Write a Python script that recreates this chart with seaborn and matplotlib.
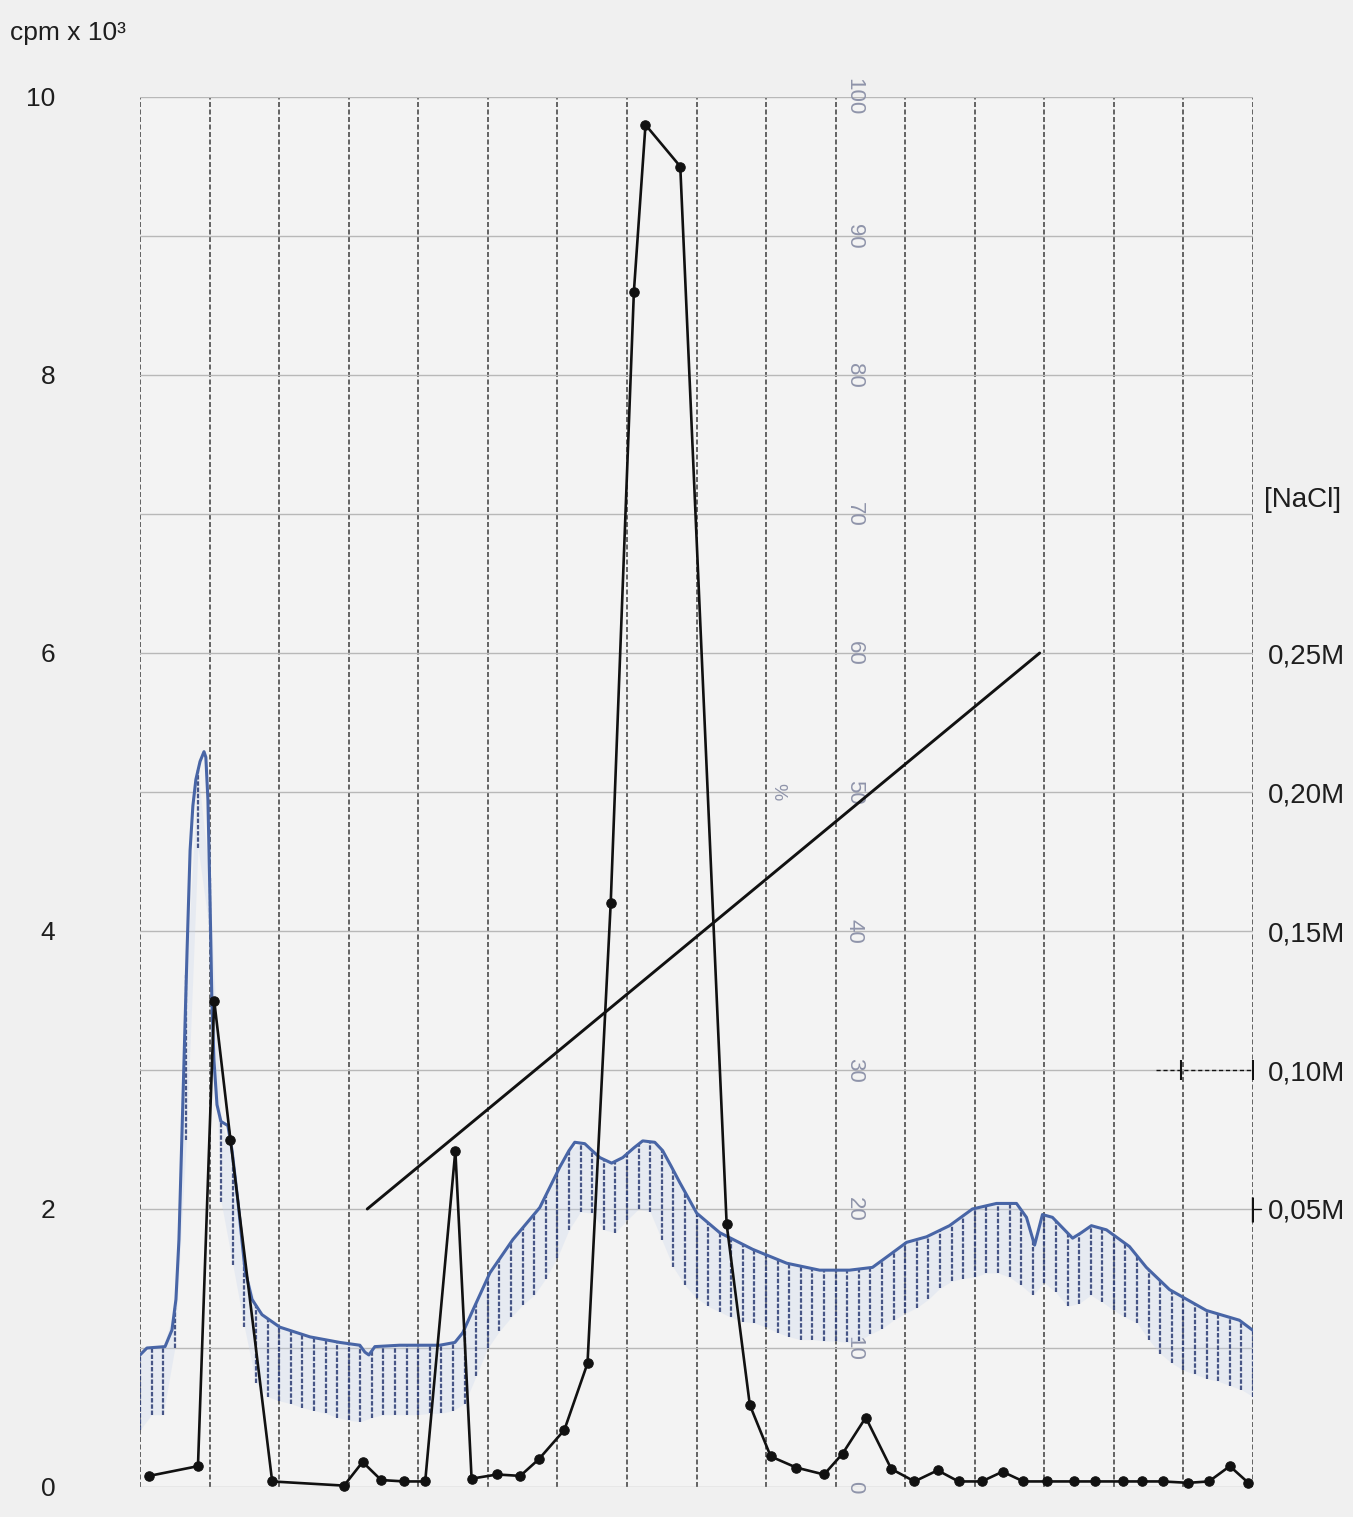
import numpy as np
import pandas as pd
import matplotlib
matplotlib.use("Agg")
import matplotlib.pyplot as plt
import seaborn as sns

# Radioactivity of the eluted fractions (cpm x 10^3)
FRACTION = [0.4, 2.5, 3.2, 3.9, 5.7, 8.8, 9.6, 10.4, 11.4, 12.3, 13.6, 14.3, 15.4,
            16.4, 17.2, 18.3, 19.3, 20.3, 21.3, 21.8, 23.3, 25.3, 26.3, 27.2, 28.3,
            29.5, 30.3, 31.3, 32.4, 33.4, 34.4, 35.3, 36.3, 37.2, 38.1, 39.1, 40.3,
            41.2, 42.4, 43.2, 44.1, 45.2, 46.1, 47.0, 47.8]
CPM = [0.08, 0.15, 3.5, 2.5, 0.04, 0.01, 0.18, 0.05, 0.04, 0.04, 2.42, 0.06, 0.09,
       0.08, 0.2, 0.41, 0.89, 4.2, 8.6, 9.8, 9.5, 1.89, 0.59, 0.22, 0.14,
       0.09, 0.24, 0.5, 0.13, 0.04, 0.12, 0.04, 0.04, 0.11, 0.04, 0.04, 0.04,
       0.04, 0.04, 0.04, 0.04, 0.03, 0.04, 0.15, 0.03]

# Recorder trace (same vertical scale, % = 10 x value)
TRACE_X = [0, 0.3, 1.08, 1.38, 1.55, 1.68, 1.85, 2.03, 2.16, 2.28, 2.41, 2.59, 2.76,
           2.84, 2.93, 3.02, 3.1, 3.19, 3.32, 3.49, 3.79, 3.97, 4.22, 4.53, 4.83,
           5.26, 6.03, 7.33, 8.62, 9.48, 9.7, 9.87, 10.13, 11.2, 12.93, 13.58, 13.92,
           14.35, 15.09, 16.08, 17.24, 18.1, 18.5, 18.75, 19.18, 19.5, 19.83, 20.34,
           20.82, 21.3, 21.68, 22.2, 22.54, 22.9, 23.28, 24.01, 25.0, 26.42, 27.89,
           29.31, 30.6, 31.59, 32.33, 33.06, 33.92, 34.91, 35.9, 36.94, 37.8, 38.23,
           38.58, 38.92, 39.35, 40.22, 40.6, 41.03, 41.68, 42.67, 43.4, 44.4, 45.99,
           47.41, 47.97]
TRACE_Y = [0.95, 1.0, 1.01, 1.13, 1.35, 1.78, 2.78, 3.86, 4.58, 4.9, 5.09, 5.22, 5.29,
           5.25, 4.94, 4.22, 3.5, 3.07, 2.75, 2.63, 2.6, 2.42, 2.06, 1.56, 1.35,
           1.24, 1.15, 1.08, 1.04, 1.02, 0.97, 0.95, 1.01, 1.02, 1.02, 1.04, 1.11,
           1.27, 1.54, 1.78, 2.01, 2.3, 2.42, 2.48, 2.47, 2.42, 2.37, 2.33,
           2.37, 2.44, 2.49, 2.48, 2.42, 2.31, 2.19, 1.97, 1.83, 1.71, 1.61,
           1.56, 1.56, 1.58, 1.67, 1.76, 1.8, 1.88, 2.0, 2.04, 2.04, 1.94,
           1.74, 1.96, 1.94, 1.79, 1.83, 1.88, 1.85, 1.73, 1.58, 1.42, 1.27,
           1.2, 1.13]

# Lower ends of the hatching strokes under the trace, one per half fraction
HATCH_BOTTOM = [0.41, 0.52, 0.52, 1.0, 2.5, 4.6, 4.0, 2.05, 1.6, 1.15, 0.75, 0.65,
                0.62, 0.6, 0.57, 0.55, 0.53, 0.5, 0.48, 0.47, 0.5, 0.52, 0.52, 0.52,
                0.52, 0.53, 0.53, 0.55, 0.6, 0.8, 1.0, 1.12, 1.22, 1.31, 1.38, 1.5,
                1.65, 1.85, 1.98, 1.97, 1.85, 1.83, 1.92, 2.0, 1.98, 1.78, 1.58, 1.45,
                1.36, 1.3, 1.26, 1.22, 1.19, 1.18, 1.15, 1.11, 1.08, 1.06, 1.06, 1.05,
                1.05, 1.04, 1.05, 1.1, 1.14, 1.2, 1.25, 1.29, 1.35, 1.43, 1.48, 1.5,
                1.51, 1.54, 1.54, 1.51, 1.45, 1.38, 1.47, 1.4, 1.3, 1.32, 1.38, 1.33,
                1.27, 1.22, 1.18, 1.06, 0.96, 0.89, 0.84, 0.81, 0.78, 0.76, 0.73, 0.7,
                0.65]

# Salt gradient
GRAD_FRACTION = [9.8, 38.8]
GRAD_NACL = [0.05, 0.25]

CPM_TICKS = [0, 2, 4, 6, 8, 10]
NACL_TICKS = [0.05, 0.10, 0.15, 0.20, 0.25]
NACL_LABELS = ["0,05M", "0,10M", "0,15M", "0,20M", "0,25M"]
PERCENT_LABELS = [0, 10, 20, 30, 40, 50, 60, 70, 80, 90, 100]

sns.set_theme(style="white")
plt.rcParams["font.family"] = ["Liberation Sans", "DejaVu Sans"]

BG = "#f0f0f0"
INK = "#1e1e1e"
W, H = 1353, 1517
fig = plt.figure(figsize=(W / 100, H / 100), dpi=100, facecolor=BG)
ax = fig.add_axes([140 / W, 30 / H, 1113 / W, 1390 / H])
ax.set_facecolor("#f3f3f3")
ax.set_xlim(0, 48)
ax.set_ylim(0, 10)

# graph-paper grid
for gx in range(0, 49, 3):
    ax.axvline(gx, color="#4a4a4a", lw=1.2, ls=(0, (3, 1.5)), zorder=1)
for gy in range(0, 11):
    ax.axhline(gy, color="#b8b8b8", lw=1.0, zorder=1)

# % scale printed on the paper
for p in PERCENT_LABELS:
    ax.text(30.8, p / 10, str(p), rotation=-90, ha="center", va="center",
            color="#8f94aa", fontsize=16, zorder=2)
ax.text(27.5, 5.0, "%", rotation=-90, ha="center", va="center",
        color="#8f94aa", fontsize=14, zorder=2)

# recorder trace with its hatching
hx = np.arange(len(HATCH_BOTTOM)) * 0.5
htop = np.interp(hx, TRACE_X, TRACE_Y)
ax.fill_between(hx, HATCH_BOTTOM, htop, color="#cbd7ee", alpha=0.3, lw=0, zorder=2)
ax.vlines(hx, HATCH_BOTTOM, htop, colors="#2a3b74", lw=1.6,
          linestyles=(0, (2, 0.8)), alpha=0.85, zorder=3)
trace = pd.DataFrame({"fraction": TRACE_X, "value": TRACE_Y})
sns.lineplot(data=trace, x="fraction", y="value", ax=ax, color="#4865a6",
             lw=2.2, sort=False, estimator=None, zorder=4)

# radioactivity profile
counts = pd.DataFrame({"fraction": FRACTION, "cpm": CPM})
sns.lineplot(data=counts, x="fraction", y="cpm", ax=ax, color="#111111", lw=1.9,
             marker="o", markersize=6.8, markeredgecolor="#111111",
             sort=False, estimator=None, zorder=5, clip_on=False)

ax.set_xlabel("")
ax.set_ylabel("")
ax.set_xticks([])
ax.set_yticks(CPM_TICKS)
ax.set_yticklabels([str(t) for t in CPM_TICKS])
ax.tick_params(axis="y", length=0, pad=61, labelsize=19, labelcolor=INK)
for s in ax.spines.values():
    s.set_visible(False)

# NaCl scale on the right
ax2 = ax.twinx()
ax2.set_ylim(-0.05, 0.45)
ax2.set_xlim(0, 48)
sns.lineplot(x=GRAD_FRACTION, y=GRAD_NACL, ax=ax2, color="#111111", lw=2.1)
ax2.plot([43.8, 48], [0.10, 0.10], color="#111111", lw=1.0, ls=(0, (3, 2)))
ax2.plot([44.9, 48], [0.10, 0.10], ls="none", marker="|", ms=14, mew=1.5, color="#111111")
ax2.plot([48], [0.05], ls="none", marker="|", ms=18, mew=2.4, color="#111111")
ax2.plot([48, 48.35], [0.05, 0.05], color="#111111", lw=1.0, clip_on=False)
ax2.set_yticks(NACL_TICKS)
ax2.set_yticklabels(NACL_LABELS)
ax2.tick_params(axis="y", length=0, pad=11, labelsize=20, labelcolor=INK)
ax2.set_ylabel("")
for s in ax2.spines.values():
    s.set_visible(False)
ax2.text(1.01, 0.71, "[NaCl]", transform=ax2.transAxes, ha="left", va="center",
         fontsize=20, color=INK)

fig.text(10 / W, 1 - 33 / H, "cpm x 10³", ha="left", va="center",
         fontsize=19, color=INK)

fig.savefig("out.png", dpi=100, facecolor=BG)
